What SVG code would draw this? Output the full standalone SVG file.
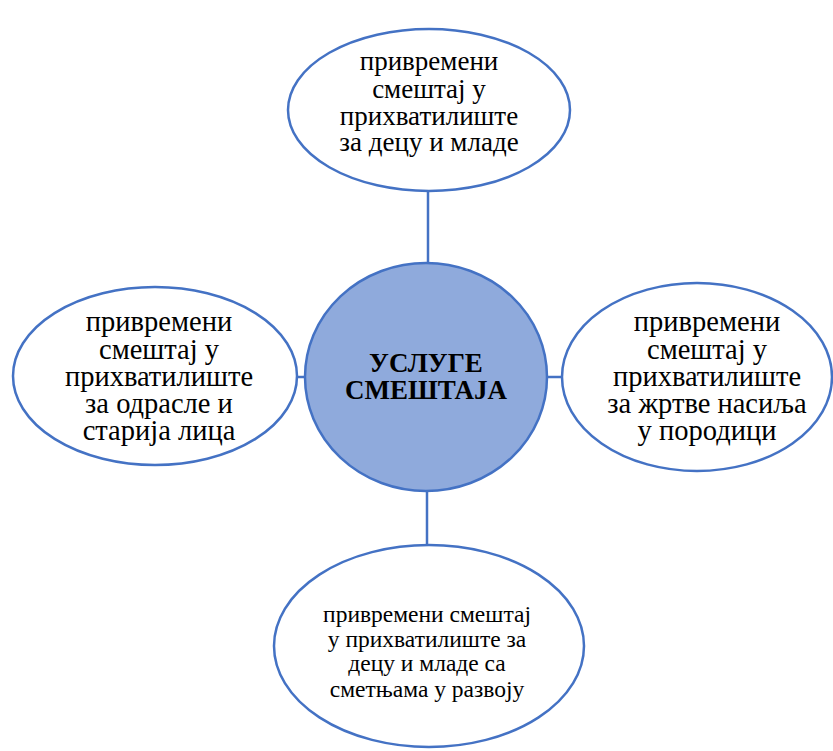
<svg xmlns="http://www.w3.org/2000/svg" width="833" height="751" viewBox="0 0 833 751">
<style>
.n{fill:#fff;stroke:#4472C4;stroke-width:2.5}
.c{fill:#8FAADC;stroke:#4472C4;stroke-width:2.5}
.l{stroke:#4472C4;stroke-width:2.5;fill:none}
text{font-family:"Liberation Serif","Times New Roman",serif;fill:#000;text-anchor:middle}
.t1{font-size:27px}
.t2{font-size:28.5px}
.t3{font-size:23.5px}
.b{font-size:27px;font-weight:bold}
</style>
<rect width="833" height="751" fill="#fff"/>
<g id="connectors">
<line class="l" x1="428" y1="191" x2="428" y2="263"/>
<line class="l" x1="297" y1="377" x2="305" y2="377"/>
<line class="l" x1="547" y1="377" x2="562" y2="377"/>
<line class="l" x1="427" y1="490" x2="427" y2="545"/>
</g>
<g id="center">
<ellipse class="c" cx="426" cy="377" rx="121" ry="114"/>
<text class="b" x="426" y="372">УСЛУГЕ</text>
<text class="b" x="426" y="399">СМЕШТАЈА</text>
</g>
<g id="top">
<ellipse class="n" cx="429" cy="110" rx="141" ry="81"/>
<text class="t1" x="429" y="70">привремени</text>
<text class="t1" x="429" y="98">смештај у</text>
<text class="t1" x="429" y="125">прихватилиште</text>
<text class="t1" x="429" y="151">за децу и младе</text>
</g>
<g id="left">
<ellipse class="n" cx="155" cy="376" rx="142" ry="89"/>
<text class="t2" x="159" y="331">привремени</text>
<text class="t2" x="159" y="359">смештај у</text>
<text class="t2" x="159" y="386">прихватилиште</text>
<text class="t2" x="159" y="413">за одрасле и</text>
<text class="t2" x="159" y="440">старија лица</text>
</g>
<g id="right">
<ellipse class="n" cx="697" cy="377" rx="135" ry="94"/>
<text class="t2" x="707" y="331">привремени</text>
<text class="t2" x="707" y="359">смештај у</text>
<text class="t2" x="707" y="386">прихватилиште</text>
<text class="t2" x="707" y="413">за жртве насиља</text>
<text class="t2" x="707" y="440">у породици</text>
</g>
<g id="bottom">
<ellipse class="n" cx="429" cy="646" rx="155" ry="101"/>
<text class="t3" x="427" y="622">привремени смештај</text>
<text class="t3" x="427" y="647">у прихватилиште за</text>
<text class="t3" x="427" y="671">децу и младе са</text>
<text class="t3" x="427" y="697">сметњама у развоју</text>
</g>
</svg>
